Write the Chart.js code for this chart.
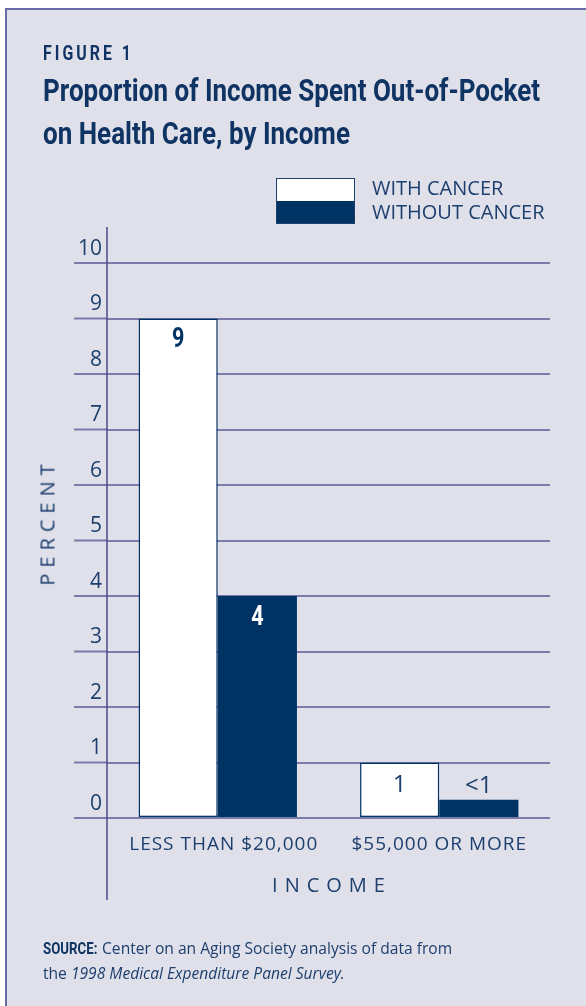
<!DOCTYPE html>
<html>
<head>
<meta charset="utf-8">
<script src="https://cdn.jsdelivr.net/npm/chart.js@4.4.1/dist/chart.umd.min.js"></script>
<style>
  html, body { margin: 0; padding: 0; background: #fff; }
  body { width: 586px; height: 1006px; position: relative; overflow: hidden; font-family: "Open Sans", sans-serif; color: #1c3f6e; }
  .frame { position: absolute; left: 5px; top: 8px; right: 0; bottom: 0; background: #e0e0ea; border-left: 2px solid #6a6aa4; border-top: 2px solid #6a6aa4; }
  canvas { position: absolute; left: 0; top: 0; }
  .abs { position: absolute; white-space: nowrap; }
  .cond { font-family: Roboto, sans-serif; font-weight: bold; color: #0f3464; transform-origin: 0 0; }
  #fig { left: 43px; top: 41px; font-size: 21px; letter-spacing: 4px; }
  #title { left: 43px; top: 69px; font-size: 32px; line-height: 43px; }
  #title span { display: inline-block; transform-origin: 0 0; }
  #legend { left: 276px; top: 178px; }
  .swatch { position: absolute; left: 0; width: 79px; height: 23px; box-sizing: border-box; border: 1.5px solid #1c3f6e; }
  .legtxt { position: absolute; left: 96px; font-size: 20px; line-height: 24px; }
  #ytitle { left: 47px; top: 522px; font-size: 20px; letter-spacing: 6px; transform: translate(-50%, -50%) rotate(-90deg); }
  #xtitle { left: 332px; top: 884px; font-size: 20px; letter-spacing: 7px; transform: translate(-50%, -50%); }
  #source { left: 43px; top: 936px; font-size: 15.6px; line-height: 24px; }
  #source b { font-family: Roboto, sans-serif; color: #0f3464; display: inline-block; transform: scaleX(0.85); transform-origin: 0 50%; margin-right: -9px; }
</style>
</head>
<body>
<div class="frame"></div>
<canvas id="chart" width="586" height="1006"></canvas>
<div class="abs cond" id="fig">FIGURE 1</div>
<div class="abs cond" id="title"><span>Proportion of Income Spent Out-of-Pocket</span><br><span>on Health Care, by Income</span></div>
<div class="abs" id="legend"></div>
<div class="abs" id="ytitle">PERCENT</div>
<div class="abs" id="xtitle">INCOME</div>
<div class="abs" id="source"><b>SOURCE:</b> Center on an Aging Society analysis of data from<br>the <i>1998 Medical Expenditure Panel Survey.</i></div>
<script>
const CATEGORIES = ['LESS THAN $20,000', '$55,000 OR MORE'];
const SERIES_NAMES = ['WITH CANCER', 'WITHOUT CANCER'];
const WITH_CANCER = [9, 1];
const WITHOUT_CANCER = [4, 0.33];
const WITH_LABELS = ['9', '1'];
const WITHOUT_LABELS = ['4', '<1'];
const Y_TICKS = [0, 1, 2, 3, 4, 5, 6, 7, 8, 9, 10];

const NAVY = '#003264';
const TEXT = '#1c3f6e';
const GRID = '#7a7aab';

// squeeze the heading text to the condensed width of the original
function fitWidth(el, w) {
  const cur = el.getBoundingClientRect().width;
  return 'scaleX(' + (w / cur) + ')';
}
const fig = document.getElementById('fig');
fig.style.transform = fitWidth(fig, 91);
const titleLines = document.querySelectorAll('#title span');
const squeeze = fitWidth(titleLines[0], 497);
titleLines.forEach((s) => { s.style.transform = squeeze; });

// legend from the series
const legend = document.getElementById('legend');
[['#ffffff', SERIES_NAMES[0]], [NAVY, SERIES_NAMES[1]]].forEach(([c, name], i) => {
  const sw = document.createElement('div');
  sw.className = 'swatch';
  sw.style.top = (i * 23) + 'px';
  sw.style.background = c;
  if (i === 0) sw.style.borderBottom = 'none';
  if (i === 1) sw.style.borderTop = 'none';
  legend.appendChild(sw);
  const t = document.createElement('div');
  t.className = 'legtxt';
  t.style.top = (i * 24 - 2) + 'px';
  t.textContent = name;
  legend.appendChild(t);
});

const extras = {
  id: 'extras',
  beforeDatasetsDraw(chart) {
    const { ctx, chartArea, scales } = chart;
    const y = scales.y;
    const x = scales.x;
    ctx.save();
    ctx.strokeStyle = GRID;
    ctx.lineWidth = 2;
    // gridline stubs left of the axis
    Y_TICKS.forEach((v) => {
      const py = y.getPixelForValue(v);
      ctx.beginPath();
      ctx.moveTo(chartArea.left - 33, py);
      ctx.lineTo(chartArea.left, py);
      ctx.stroke();
    });
    // y axis line, running past the plot
    ctx.strokeStyle = '#4a4a88';
    ctx.lineWidth = 1.5;
    ctx.beginPath();
    ctx.moveTo(chartArea.left, y.getPixelForValue(10) - 36);
    ctx.lineTo(chartArea.left, y.getPixelForValue(0) + 82);
    ctx.stroke();
    // category labels, letter spaced
    ctx.font = '19px "Open Sans"';
    ctx.letterSpacing = '1px';
    ctx.fillStyle = TEXT;
    ctx.textAlign = 'center';
    ctx.textBaseline = 'middle';
    CATEGORIES.forEach((c, i) => {
      ctx.fillText(c, x.getPixelForTick(i) + (i === 0 ? 6 : 0), y.getPixelForValue(0) + 27);
    });
    ctx.restore();
  },
  afterDatasetsDraw(chart) {
    const { ctx } = chart;
    ctx.save();
    ctx.textAlign = 'center';
    ctx.textBaseline = 'middle';
    const sets = [WITH_LABELS, WITHOUT_LABELS];
    sets.forEach((labels, di) => {
      chart.getDatasetMeta(di).data.forEach((bar, i) => {
        const small = chart.data.datasets[di].data[i] < 2;
        if (small) {
          ctx.font = '24px "Open Sans"';
          ctx.fillStyle = TEXT;
          const yy = di === 0 ? bar.y + 23 : bar.y - 14;
          ctx.fillText(labels[i], bar.x, yy);
        } else {
          ctx.save();
          ctx.translate(bar.x, bar.y + 22);
          ctx.scale(0.8, 1);
          ctx.font = 'bold 27px Roboto';
          ctx.fillStyle = di === 0 ? NAVY : '#ffffff';
          ctx.fillText(labels[i], 0, 0);
          ctx.restore();
        }
      });
    });
    ctx.restore();
  }
};

new Chart(document.getElementById('chart'), {
  type: 'bar',
  data: {
    labels: CATEGORIES,
    datasets: [
      { label: SERIES_NAMES[0], data: WITH_CANCER, backgroundColor: '#ffffff', borderColor: NAVY, borderWidth: 1.5, borderSkipped: false },
      { label: SERIES_NAMES[1], data: WITHOUT_CANCER, backgroundColor: NAVY, borderWidth: 0 }
    ]
  },
  options: {
    responsive: false,
    animation: false,
    devicePixelRatio: 1,
    layout: { padding: { left: 40, top: 263, right: 36, bottom: 148 } },
    datasets: { bar: { categoryPercentage: 0.715, barPercentage: 1.0 } },
    plugins: { legend: { display: false }, tooltip: { enabled: false } },
    scales: {
      y: {
        min: 0, max: 10,
        afterFit(s) { s.width = 67; },
        afterBuildTicks(s) { s.ticks = Y_TICKS.map((v) => ({ value: v })); },
        ticks: { font: { family: 'Open Sans', size: 21 }, color: TEXT, padding: 5, labelOffset: -14 },
        grid: { color: GRID, lineWidth: 2, drawTicks: false },
        border: { display: false }
      },
      x: {
        afterFit(s) { s.height = 40; },
        ticks: { display: false },
        grid: { display: false },
        border: { display: false }
      }
    }
  },
  plugins: [extras]
});
</script>
</body>
</html>
